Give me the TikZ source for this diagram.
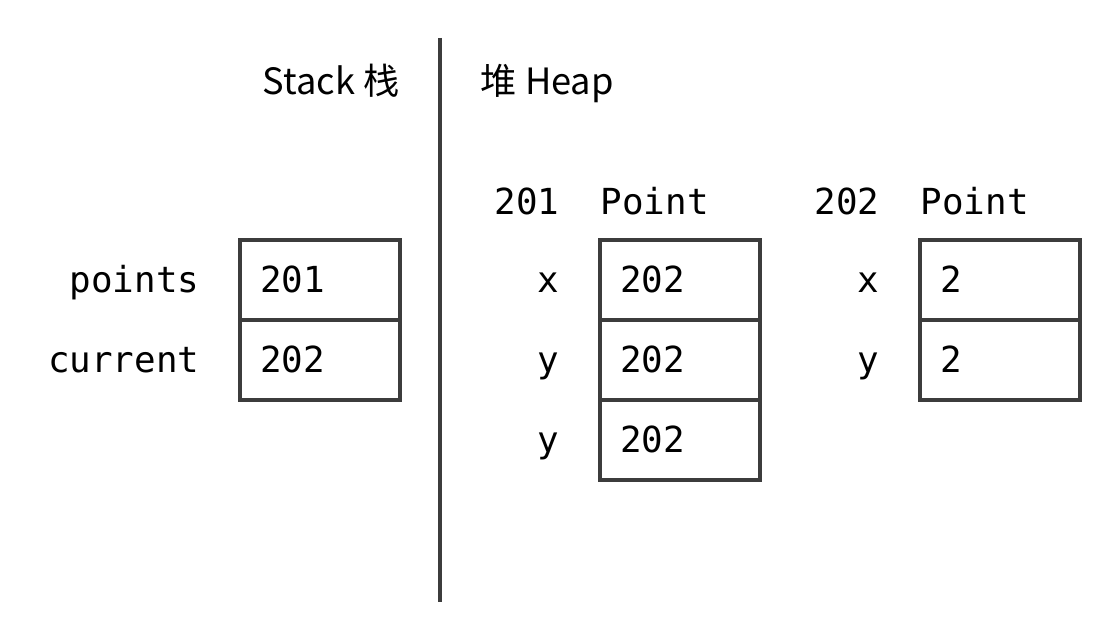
\documentclass[tikz,border=0pt]{standalone}
\usepackage{fontspec}
\setmainfont{Noto Sans CJK SC}
\setmonofont{DejaVu Sans Mono}
\usetikzlibrary{positioning}
\definecolor{boxgray}{HTML}{3C3C3C}
\tikzset{>=stealth,
  cell/.style={draw=boxgray, line width=1.15pt, outer sep=0pt, anchor=north west,
    minimum width=1.6cm, minimum height=0.8cm, inner xsep=0.2cm, inner ysep=0pt,
    text width=1.2cm, align=left, text height=0.25cm, text depth=0pt,
    font=\ttfamily\fontsize{10.2}{12}\selectfont},
  lbl/.style={inner sep=0pt, text height=0.25cm, text depth=0pt,
    font=\ttfamily\fontsize{10.2}{12}\selectfont},
  head/.style={inner sep=0pt, font=\fontsize{10.3}{13}\selectfont},
  rule/.style={draw=boxgray, line width=1.15pt}
}

\begin{document}
\begin{tikzpicture}[x=0.01cm, y=-0.01cm]
\useasboundingbox (0,0) rectangle (1120,640);
\coordinate (top) at (440,38);
\coordinate (bottom) at (440,602);
\draw[rule] (top) -- (bottom);
\node[head, anchor=base east] (stack) at (400,95) {Stack 栈};
\node[head, anchor=base west] (heap) at (480,95) {堆 Heap};
% stack
\node[cell] (points) at (240,240) {201};
\node[cell, below=0pt of points] (current) {202};
\node[lbl, left=0.4cm of points] (lpoints) {points};
\node[lbl, left=0.4cm of current] (lcurrent) {current};
% heap, object 201
\node[lbl, anchor=east] (addr1) at (560,202) {201};
\node[lbl, anchor=west] (cls1) at (600,202) {Point};
\node[cell] (ax) at (600,240) {202};
\node[cell, below=0pt of ax] (ay) {202};
\node[cell, below=0pt of ay] (az) {202};
\node[lbl, left=0.4cm of ax] (lax) {x};
\node[lbl, left=0.4cm of ay] (lay) {y};
\node[lbl, left=0.4cm of az] (laz) {y};
% heap, object 202
\node[lbl, anchor=east] (addr2) at (880,202) {202};
\node[lbl, anchor=west] (cls2) at (920,202) {Point};
\node[cell] (bx) at (920,240) {2};
\node[cell, below=0pt of bx] (by) {2};
\node[lbl, left=0.4cm of bx] (lbx) {x};
\node[lbl, left=0.4cm of by] (lby) {y};
\end{tikzpicture}
\end{document}
